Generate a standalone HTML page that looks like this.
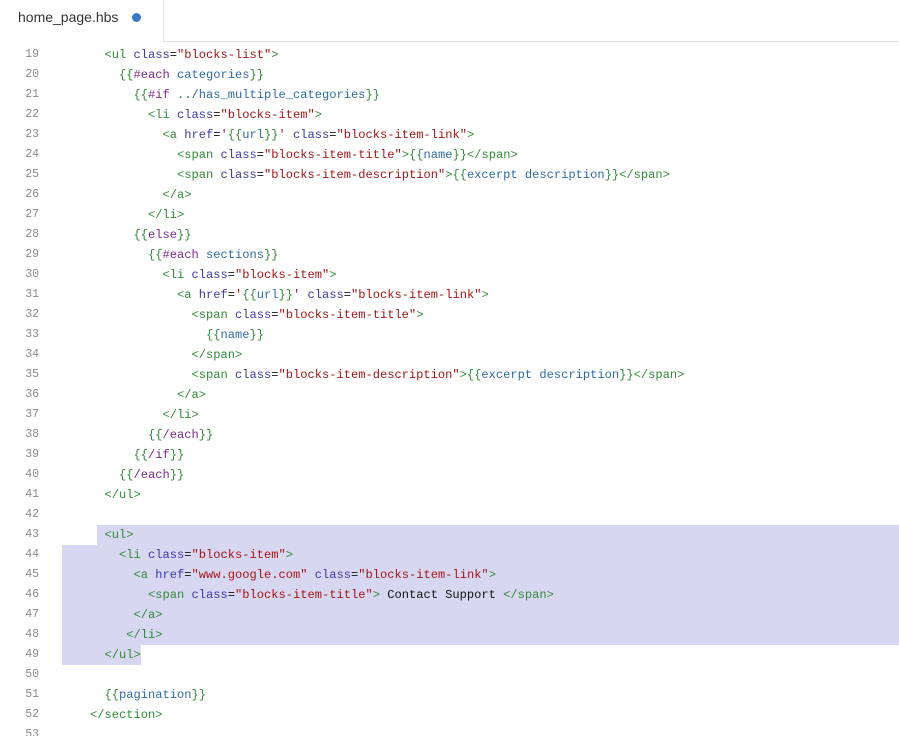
<!DOCTYPE html>
<html><head><meta charset="utf-8"><style>
html,body{margin:0;padding:0;background:#fff;width:899px;height:736px;overflow:hidden;position:relative}
.tabbar{position:absolute;left:0;top:0;width:899px;height:42px;background:#fff;z-index:5}
.tab{position:absolute;left:0;top:0;width:163px;height:42px;border-right:1px solid #e3e3e3;background:#fff}
.tabline{position:absolute;left:164px;top:41px;width:735px;height:1px;background:#e3e3e3}
.tab span{position:absolute;left:18px;top:9px;font:14px "Liberation Sans",sans-serif;color:#333}
.dot{position:absolute;left:132px;top:13px;width:9px;height:9px;border-radius:50%;background:#3a78c6}
.hl{position:absolute;background:#d8d7f1}
.ln{position:absolute;left:0;width:39px;text-align:right;font:11.5px "Liberation Mono",monospace;color:#8a8a8a;line-height:20px}
.cd{position:absolute;left:61px;white-space:pre;font:12.08px "Liberation Mono",monospace;line-height:20px;color:#111}
.t{color:#2f8a35}.a{color:#3a3aa2}.s{color:#a31515}.k{color:#7a2a8a}.v{color:#2d6aa8}
</style></head><body>
<div class="hl" style="left:97px;top:525px;width:802px;height:20px"></div>
<div class="hl" style="left:62px;top:545px;width:837px;height:100px"></div>
<div class="hl" style="left:62px;top:645px;width:79px;height:20px"></div>
<div id="code"></div>
<div class="tabbar"><div class="tab"><span>home_page.hbs</span><div class="dot"></div></div><div class="tabline"></div></div>
<script>
var L={
18:'    <t>&lt;section</t> <a>class</a>=<s>"categories blocks"</s><t>&gt;</t>',
19:'      <t>&lt;ul</t> <a>class</a>=<s>"blocks-list"</s><t>&gt;</t>',
20:'        <t>{{</t><k>#each</k> <v>categories</v><t>}}</t>',
21:'          <t>{{</t><k>#if</k> <v>../has_multiple_categories</v><t>}}</t>',
22:'            <t>&lt;li</t> <a>class</a>=<s>"blocks-item"</s><t>&gt;</t>',
23:'              <t>&lt;a</t> <a>href</a>=<s>\'</s><t>{{</t><v>url</v><t>}}</t><s>\'</s> <a>class</a>=<s>"blocks-item-link"</s><t>&gt;</t>',
24:'                <t>&lt;span</t> <a>class</a>=<s>"blocks-item-title"</s><t>&gt;{{</t><v>name</v><t>}}&lt;/span&gt;</t>',
25:'                <t>&lt;span</t> <a>class</a>=<s>"blocks-item-description"</s><t>&gt;{{</t><v>excerpt description</v><t>}}&lt;/span&gt;</t>',
26:'              <t>&lt;/a&gt;</t>',
27:'            <t>&lt;/li&gt;</t>',
28:'          <t>{{</t><k>else</k><t>}}</t>',
29:'            <t>{{</t><k>#each</k> <v>sections</v><t>}}</t>',
30:'              <t>&lt;li</t> <a>class</a>=<s>"blocks-item"</s><t>&gt;</t>',
31:'                <t>&lt;a</t> <a>href</a>=<s>\'</s><t>{{</t><v>url</v><t>}}</t><s>\'</s> <a>class</a>=<s>"blocks-item-link"</s><t>&gt;</t>',
32:'                  <t>&lt;span</t> <a>class</a>=<s>"blocks-item-title"</s><t>&gt;</t>',
33:'                    <t>{{</t><v>name</v><t>}}</t>',
34:'                  <t>&lt;/span&gt;</t>',
35:'                  <t>&lt;span</t> <a>class</a>=<s>"blocks-item-description"</s><t>&gt;{{</t><v>excerpt description</v><t>}}&lt;/span&gt;</t>',
36:'                <t>&lt;/a&gt;</t>',
37:'              <t>&lt;/li&gt;</t>',
38:'            <t>{{</t><k>/each</k><t>}}</t>',
39:'          <t>{{</t><k>/if</k><t>}}</t>',
40:'        <t>{{</t><k>/each</k><t>}}</t>',
41:'      <t>&lt;/ul&gt;</t>',
42:'',
43:'      <t>&lt;ul&gt;</t>',
44:'        <t>&lt;li</t> <a>class</a>=<s>"blocks-item"</s><t>&gt;</t>',
45:'          <t>&lt;a</t> <a>href</a>=<s>"www.google.com"</s> <a>class</a>=<s>"blocks-item-link"</s><t>&gt;</t>',
46:'            <t>&lt;span</t> <a>class</a>=<s>"blocks-item-title"</s><t>&gt;</t> Contact Support <t>&lt;/span&gt;</t>',
47:'          <t>&lt;/a&gt;</t>',
48:'         <t>&lt;/li&gt;</t>',
49:'      <t>&lt;/ul&gt;</t>',
50:'',
51:'      <t>{{</t><v>pagination</v><t>}}</t>',
52:'    <t>&lt;/section&gt;</t>',
53:''};
var h='';
for(var n=18;n<=53;n++){var y=45+(n-19)*20;
var c=L[n].replace(/<(\/?)([taskv])>/g,function(m,s,k){return s?'</span>':'<span class="'+k+'">';});
h+='<div class="ln" style="top:'+y+'px">'+n+'</div><div class="cd" style="top:'+y+'px">'+c+'</div>';}
document.getElementById('code').innerHTML=h;
</script>
</body></html>
